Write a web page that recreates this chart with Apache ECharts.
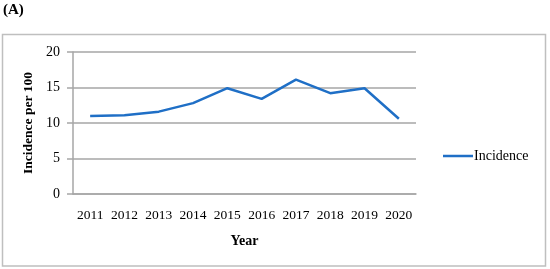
<!DOCTYPE html>
<html>
<head>
<meta charset="utf-8">
<script src="https://cdn.jsdelivr.net/npm/echarts@6/dist/echarts.min.js"></script>
<style>
  html, body { margin: 0; padding: 0; background: #fff; }
  #chart { width: 550px; height: 269px; }
</style>
</head>
<body>
<div id="chart"></div>
<script>
var years = ['2011', '2012', '2013', '2014', '2015', '2016', '2017', '2018', '2019', '2020'];
var incidence = [11.0, 11.1, 11.6, 12.8, 14.9, 13.4, 16.1, 14.2, 14.9, 10.6];
var yTicks = { min: 0, max: 20, interval: 5 };

var serif = '"Liberation Serif", "DejaVu Serif", serif';
var myChart = echarts.init(document.getElementById('chart'));
var option = {
    animation: false,
    textStyle: { fontFamily: serif },
    graphic: [{
        type: 'rect',
        shape: { x: 2.5, y: 34.5, width: 543, height: 231.5 },
        style: { fill: 'none', stroke: '#bfbfbf', lineWidth: 1.5 }
    }, {
        type: 'text',
        left: 3,
        top: 3,
        style: { text: '(A)', font: 'bold 15px ' + serif, fill: '#000' }
    }],
    grid: { left: 73, top: 52, right: 134, bottom: 75 },
    legend: {
        left: 438,
        top: 144,
        itemWidth: 30,
        itemHeight: 2.5,
        data: [{ name: 'Incidence', icon: 'rect' }],
        textStyle: { fontFamily: serif, fontSize: 14, color: '#000', padding: [0, 0, 0, -4] }
    },
    xAxis: {
        type: 'category',
        data: years,
        name: 'Year',
        nameLocation: 'middle',
        nameGap: 40,
        nameTextStyle: { fontFamily: serif, fontWeight: 'bold', fontSize: 14, color: '#000' },
        axisLine: { lineStyle: { color: '#a6a6a6', width: 1.5 } },
        axisTick: { show: false },
        axisLabel: { interval: 0, hideOverlap: false, fontFamily: serif, fontSize: 13.5, color: '#000', margin: 14 }
    },
    yAxis: {
        type: 'value',
        min: yTicks.min,
        max: yTicks.max,
        interval: yTicks.interval,
        name: 'Incidence per 100',
        nameLocation: 'middle',
        nameGap: 34,
        nameTextStyle: { fontFamily: serif, fontWeight: 'bold', fontSize: 13.5, color: '#000' },
        axisLine: { show: true, lineStyle: { color: '#a6a6a6', width: 1.5 } },
        axisTick: { show: true, length: 6, lineStyle: { color: '#a6a6a6', width: 1.5 } },
        axisLabel: { fontFamily: serif, fontSize: 14, color: '#000', margin: 13 },
        splitLine: { lineStyle: { color: '#a6a6a6', width: 1.5 } }
    },
    series: [{
        name: 'Incidence',
        type: 'line',
        data: incidence,
        symbol: 'none',
        lineStyle: { color: '#1f6fc6', width: 2.5 },
        itemStyle: { color: '#1f6fc6' }
    }]
};
myChart.setOption(option);
</script>
</body>
</html>
